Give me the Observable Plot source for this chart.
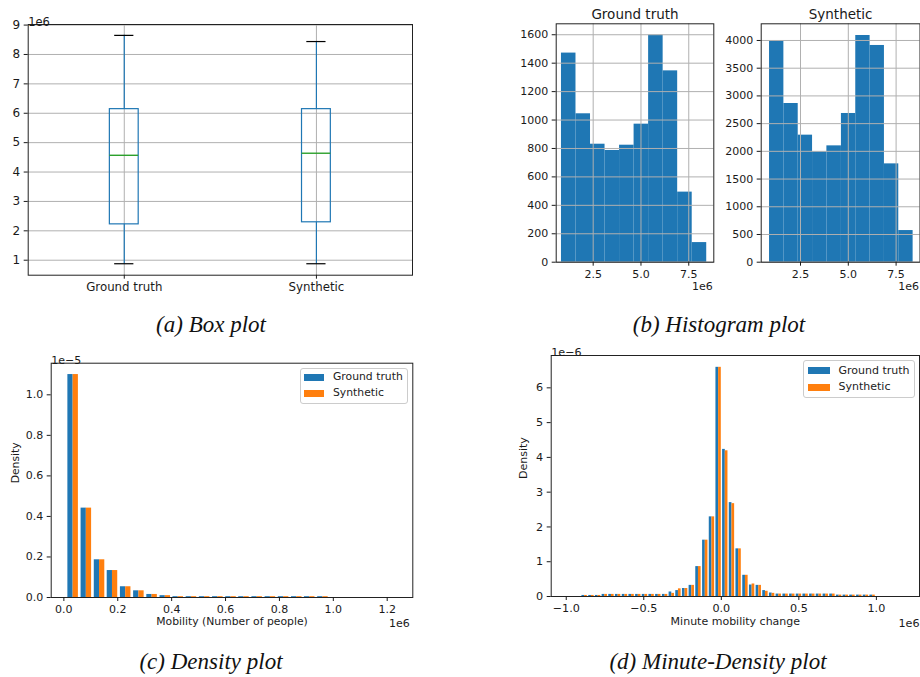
<!DOCTYPE html>
<html><head><meta charset="utf-8">
<script src="https://cdn.jsdelivr.net/npm/d3@7"></script>
<script src="https://cdn.jsdelivr.net/npm/@observablehq/plot@0.6"></script>
<style>
body{margin:0;background:#fff;}
#root{position:relative;width:920px;height:677px;overflow:hidden;font-family:"DejaVu Sans",sans-serif;}
.cap{position:absolute;font-family:"Liberation Serif","Times New Roman",serif;font-style:italic;font-size:23px;line-height:23px;white-space:nowrap;transform:translateX(-50%);color:#111;}
.legend{position:absolute;border:1px solid #cccccc;border-radius:3px;background:rgba(255,255,255,0.8);color:#222;box-sizing:border-box;}
.legend .sw{position:absolute;}
.legend .tx{position:absolute;font-family:"DejaVu Sans",sans-serif;white-space:nowrap;}
</style></head><body><div id="root"></div>
<script>
// ---------- (a) Box plot data (values in 1e6) ----------
const boxCategories = ["Ground truth", "Synthetic"];
const boxPositions = [1, 2];
const boxWhiskerLow = [0.88, 0.88];
const boxQ1 = [2.22, 2.29];
const boxMedian = [4.57, 4.64];
const boxQ3 = [6.14, 6.14];
const boxWhiskerHigh = [8.65, 8.44];
const boxYTicks = [1, 2, 3, 4, 5, 6, 7, 8, 9];

// ---------- (b) Histogram data (x in 1e6) ----------
const histGTEdges = [0.84, 1.60, 2.36, 3.12, 3.88, 4.64, 5.40, 6.16, 6.92, 7.68, 8.44];
const histGTCounts = [1471, 1044, 830, 786, 823, 971, 1597, 1346, 493, 138];
const histSynEdges = [0.88, 1.63, 2.38, 3.13, 3.88, 4.64, 5.39, 6.14, 6.89, 7.64, 8.39];
const histSynCounts = [3994, 2863, 2292, 1991, 2099, 2683, 4090, 3910, 1774, 571];
const histXTicks = [2.5, 5.0, 7.5];
const histGTYTicks = [0, 200, 400, 600, 800, 1000, 1200, 1400, 1600];
const histSynYTicks = [0, 500, 1000, 1500, 2000, 2500, 3000, 3500, 4000];

// ---------- (c) Density plot data (x in 1e6, y in 1e-5) ----------
const densBinEdges = [0.010, 0.059, 0.108, 0.156, 0.205, 0.254, 0.303, 0.352, 0.400, 0.449,
                      0.498, 0.547, 0.596, 0.644, 0.693, 0.742, 0.791, 0.840, 0.888, 0.937];
const densBinWidth = 0.0488;
const densGT  = [1.100, 0.441, 0.186, 0.133, 0.053, 0.033, 0.015, 0.009, 0.004, 0.004,
                 0.004, 0.004, 0.004, 0.004, 0.004, 0.004, 0.004, 0.004, 0.004, 0.004];
const densSyn = [1.100, 0.441, 0.186, 0.133, 0.053, 0.033, 0.015, 0.009, 0.004, 0.004,
                 0.004, 0.004, 0.004, 0.004, 0.004, 0.004, 0.004, 0.004, 0.004, 0.004];
const densXTicks = [0, 0.2, 0.4, 0.6, 0.8, 1.0, 1.2];
const densYTicks = [0, 0.2, 0.4, 0.6, 0.8, 1.0];

// ---------- (d) Minute-Density plot data (x in 1e6, y in 1e-6) ----------
const minBinEdges = [-0.903, -0.859, -0.816, -0.773, -0.730, -0.687, -0.643, -0.600, -0.557, -0.514,
                     -0.471, -0.428, -0.384, -0.341, -0.298, -0.255, -0.212, -0.169, -0.125, -0.082,
                     -0.039, 0.004, 0.047, 0.090, 0.134, 0.177, 0.220, 0.263, 0.306, 0.349,
                     0.393, 0.436, 0.479, 0.522, 0.565, 0.608, 0.652, 0.695, 0.738, 0.781,
                     0.824, 0.868, 0.911, 0.954];
const minBinWidth = 0.0432;
const minGT  = [0.03, 0.03, 0.03, 0.06, 0.06, 0.06, 0.06, 0.06, 0.06, 0.06,
                0.06, 0.06, 0.06, 0.13, 0.17, 0.23, 0.32, 0.86, 1.62, 2.29,
                6.59, 4.23, 2.70, 1.37, 0.61, 0.33, 0.32, 0.17, 0.10, 0.07,
                0.07, 0.07, 0.07, 0.07, 0.07, 0.07, 0.07, 0.07, 0.04, 0.04,
                0.04, 0.04, 0.04, 0.04];
const minSyn = [0.03, 0.03, 0.03, 0.06, 0.06, 0.06, 0.06, 0.06, 0.06, 0.06,
                0.06, 0.06, 0.06, 0.09, 0.22, 0.23, 0.32, 0.86, 1.62, 2.29,
                6.59, 4.19, 2.67, 1.37, 0.61, 0.36, 0.32, 0.15, 0.09, 0.07,
                0.07, 0.07, 0.07, 0.07, 0.07, 0.07, 0.07, 0.07, 0.04, 0.04,
                0.04, 0.04, 0.04, 0.04];
const minXTicks = [-1.0, -0.5, 0.0, 0.5, 1.0];
const minYTicks = [0, 1, 2, 3, 4, 5, 6];

const seriesNames = ["Ground truth", "Synthetic"];
const blue = "#1f77b4", orange = "#ff7f0e", green = "#2ca02c", gridC = "#b0b0b0";
const root = document.getElementById("root");
const baseStyle = {background: "transparent", fontFamily: "DejaVu Sans, sans-serif", color: "#1a1a1a", overflow: "visible"};
const fmt1 = d => d.toFixed(1).replace("-", "\u2212");

function place(el, left, top) {
  el.style.position = "absolute";
  el.style.left = left + "px";
  el.style.top = top + "px";
  root.appendChild(el);
}

// ---------- (a) ----------
const boxData = boxCategories.map((c, i) => ({
  cat: c, pos: boxPositions[i], lo: boxWhiskerLow[i], q1: boxQ1[i],
  med: boxMedian[i], q3: boxQ3[i], hi: boxWhiskerHigh[i]
}));
const bw = 0.075, cw = 0.05;
const plotA = Plot.plot({
  width: 420, height: 300,
  marginLeft: 27.7, marginRight: 8, marginTop: 24, marginBottom: 25.3,
  x: {domain: [0.5, 2.5]},
  y: {domain: [0.49, 9.02]},
  style: baseStyle,
  marks: [
    Plot.gridY({ticks: boxYTicks, stroke: gridC, strokeOpacity: 1, strokeWidth: 1}),
    Plot.gridX({ticks: boxPositions, stroke: gridC, strokeOpacity: 1, strokeWidth: 1}),
    Plot.ruleX(boxData, {x: "pos", y1: "lo", y2: "q1", stroke: blue, strokeWidth: 1.2}),
    Plot.ruleX(boxData, {x: "pos", y1: "q3", y2: "hi", stroke: blue, strokeWidth: 1.2}),
    Plot.rect(boxData, {x1: d => d.pos - bw, x2: d => d.pos + bw, y1: "q1", y2: "q3", fill: "none", stroke: blue, strokeWidth: 1.2}),
    Plot.ruleY(boxData, {y: "med", x1: d => d.pos - bw, x2: d => d.pos + bw, stroke: green, strokeWidth: 1.4}),
    Plot.ruleY(boxData, {y: "lo", x1: d => d.pos - cw, x2: d => d.pos + cw, stroke: "black", strokeWidth: 1.2}),
    Plot.ruleY(boxData, {y: "hi", x1: d => d.pos - cw, x2: d => d.pos + cw, stroke: "black", strokeWidth: 1.2}),
    Plot.frame({stroke: "#222", strokeWidth: 1}),
    Plot.axisY({ticks: boxYTicks, tickFormat: d => String(d), tickSize: 4, tickPadding: 4, fontSize: 12, label: null}),
    Plot.axisX({ticks: boxPositions, tickFormat: d => boxCategories[d - 1], tickSize: 4, tickPadding: 3.5, fontSize: 11.8, label: null}),
    Plot.text(["1e6"], {frameAnchor: "top-left", textAnchor: "start", dy: -7, fontSize: 11.5})
  ]
});
place(plotA, 0, 0);

// ---------- (b) ----------
function histPlot(edges, counts, yTicks, yMax, xDomain, title, mLeft, mRight) {
  const data = counts.map((c, i) => ({x1: edges[i], x2: edges[i + 1], y: c}));
  return Plot.plot({
    width: 200, height: 300,
    marginLeft: mLeft, marginRight: mRight, marginTop: 23.3, marginBottom: 38.3,
    x: {domain: xDomain},
    y: {domain: [0, yMax]},
    style: baseStyle,
    marks: [
      Plot.rect(data, {x1: "x1", x2: "x2", y1: 0, y2: "y", fill: blue}),
      Plot.gridY({ticks: yTicks, stroke: gridC, strokeOpacity: 1, strokeWidth: 1}),
      Plot.gridX({ticks: histXTicks, stroke: gridC, strokeOpacity: 1, strokeWidth: 1}),
      Plot.frame({stroke: "#222", strokeWidth: 1}),
      Plot.axisY({ticks: yTicks, tickFormat: d => String(d), tickSize: 4, tickPadding: 4, fontSize: 11, label: null}),
      Plot.axisX({ticks: histXTicks, tickFormat: fmt1, tickSize: 4, tickPadding: 3.5, fontSize: 11, label: null}),
      Plot.text([title], {frameAnchor: "top", dy: -14, fontSize: 13.5}),
      Plot.text(["1e6"], {frameAnchor: "bottom-right", textAnchor: "end", dx: -1, dy: 28, fontSize: 11})
    ]
  });
}
place(histPlot(histGTEdges, histGTCounts, histGTYTicks, 1677, [0.565, 8.81], "Ground truth", 35.7, 6.7), 520, 0);
place(histPlot(histSynEdges, histSynCounts, histSynYTicks, 4301, [0.444, 8.75], "Synthetic", 40.7, 0.5), 720, 0);

// ---------- paired density helper ----------
function pairedData(edges, w, gt, syn) {
  const out = [];
  edges.forEach((e, i) => {
    out.push({series: seriesNames[0], x1: e + 0.1 * w, x2: e + 0.5 * w, y: gt[i]});
    out.push({series: seriesNames[1], x1: e + 0.5 * w, x2: e + 0.9 * w, y: syn[i]});
  });
  return out;
}

// ---------- (c) ----------
const dataC = pairedData(densBinEdges, densBinWidth, densGT, densSyn);
const plotC = Plot.plot({
  width: 420, height: 300,
  marginLeft: 50.7, marginRight: 7.7, marginTop: 22.7, marginBottom: 43,
  x: {domain: [-0.047, 1.295]},
  y: {domain: [0, 1.156]},
  color: {domain: seriesNames, range: [blue, orange]},
  style: baseStyle,
  marks: [
    Plot.rect(dataC, {x1: "x1", x2: "x2", y1: 0, y2: "y", fill: "series"}),
    Plot.frame({stroke: "#222", strokeWidth: 1}),
    Plot.axisY({ticks: densYTicks, tickFormat: fmt1, tickSize: 4, tickPadding: 4, fontSize: 11, label: null}),
    Plot.axisX({ticks: densXTicks, tickFormat: fmt1, tickSize: 4, tickPadding: 3.5, fontSize: 11, label: null}),
    Plot.text(["1e\u22125"], {frameAnchor: "top-left", textAnchor: "start", dy: -7, fontSize: 11}),
    Plot.text(["1e6"], {frameAnchor: "bottom-right", textAnchor: "end", dx: -3, dy: 29, fontSize: 11}),
    Plot.text(["Mobility (Number of people)"], {frameAnchor: "bottom", dy: 27, fontSize: 10.8}),
    Plot.text(["Density"], {frameAnchor: "left", rotate: -90, dx: -36, dy: 3, fontSize: 10.8})
  ]
});
place(plotC, 0, 340);

// ---------- (d) ----------
const dataD = pairedData(minBinEdges, minBinWidth, minGT, minSyn);
const plotD = Plot.plot({
  width: 420, height: 300,
  marginLeft: 50.7, marginRight: 1, marginTop: 15, marginBottom: 44,
  x: {domain: [-1.097, 1.278]},
  y: {domain: [0, 6.93]},
  color: {domain: seriesNames, range: [blue, orange]},
  style: baseStyle,
  marks: [
    Plot.rect(dataD, {x1: "x1", x2: "x2", y1: 0, y2: "y", fill: "series"}),
    Plot.frame({stroke: "#222", strokeWidth: 1}),
    Plot.axisY({ticks: minYTicks, tickFormat: d => String(d), tickSize: 4, tickPadding: 4, fontSize: 11.2, label: null}),
    Plot.axisX({ticks: minXTicks, tickFormat: fmt1, tickSize: 4, tickPadding: 3.5, fontSize: 11.2, label: null}),
    Plot.text(["1e\u22126"], {frameAnchor: "top-left", textAnchor: "start", dy: -7.5, fontSize: 11.2}),
    Plot.text(["1e6"], {frameAnchor: "bottom-right", textAnchor: "end", dx: 0, dy: 30, fontSize: 11.2}),
    Plot.text(["Minute mobility change"], {frameAnchor: "bottom", dy: 28, fontSize: 11}),
    Plot.text(["Density"], {frameAnchor: "left", rotate: -90, dx: -28, dy: 3, fontSize: 11})
  ]
});
place(plotD, 500, 340);

// ---------- legends ----------
function legend(left, top, w, h, rows, swX, swW, swH, txX, fs) {
  const div = document.createElement("div");
  div.className = "legend";
  div.style.left = left + "px"; div.style.top = top + "px";
  div.style.width = w + "px"; div.style.height = h + "px";
  rows.forEach(r => {
    const sw = document.createElement("div");
    sw.className = "sw";
    sw.style.left = swX + "px"; sw.style.top = (r.cy - swH / 2) + "px";
    sw.style.width = swW + "px"; sw.style.height = swH + "px";
    sw.style.background = r.color;
    div.appendChild(sw);
    const tx = document.createElement("div");
    tx.className = "tx";
    tx.style.left = txX + "px"; tx.style.top = (r.cy - fs * 0.62) + "px";
    tx.style.fontSize = fs + "px"; tx.style.lineHeight = "1.2";
    tx.textContent = r.label;
    div.appendChild(tx);
  });
  root.appendChild(div);
}
legend(300, 368, 108, 36, [
  {label: seriesNames[0], color: blue, cy: 8.5},
  {label: seriesNames[1], color: orange, cy: 24.5}
], 3, 20, 7, 32, 10.8);
legend(803, 360, 112, 38, [
  {label: seriesNames[0], color: blue, cy: 9.5},
  {label: seriesNames[1], color: orange, cy: 26}
], 3.5, 22, 7, 34.5, 11);

// ---------- captions ----------
const captions = [
  {text: "(a) Box plot", x: 211, top: 313},
  {text: "(b) Histogram plot", x: 719, top: 313},
  {text: "(c) Density plot", x: 211, top: 650},
  {text: "(d) Minute-Density plot", x: 718, top: 650}
];
captions.forEach(c => {
  const d = document.createElement("div");
  d.className = "cap";
  d.style.left = c.x + "px"; d.style.top = c.top + "px";
  d.textContent = c.text;
  root.appendChild(d);
});
</script></body></html>
